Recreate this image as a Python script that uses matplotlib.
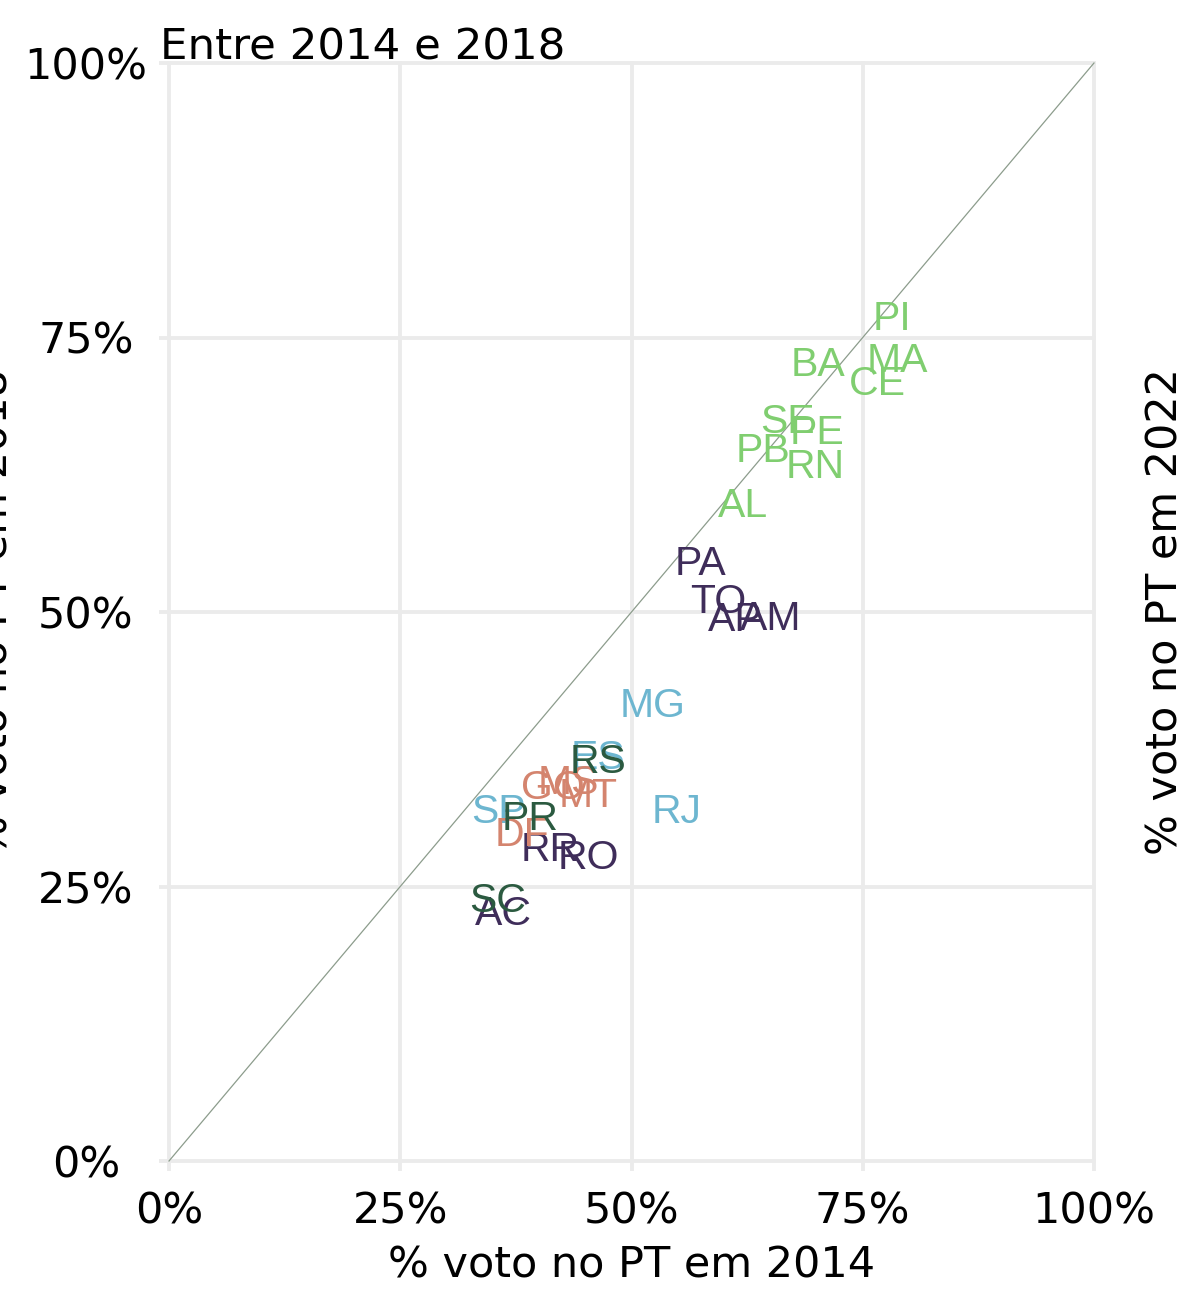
import matplotlib
matplotlib.use("Agg")
import matplotlib.pyplot as plt
from matplotlib.transforms import ScaledTranslation

# ---- data ----
states = ["PI", "MA", "CE", "BA", "SE", "PE", "PB", "RN", "AL",
          "PA", "TO", "AP", "AM", "RR", "RO", "AC",
          "MG", "ES", "SP", "RJ",
          "MS", "GO", "MT", "DF",
          "RS", "PR", "SC"]
vote_2014 = [78.2, 78.7, 76.6, 70.2, 66.9, 70.1, 64.2, 69.9, 62.0,
             57.5, 59.4, 61.2, 65.0, 41.2, 45.3, 36.2,
             52.3, 46.4, 35.6, 54.9,
             43.2, 41.5, 45.3, 38.2,
             46.4, 39.0, 35.5]
vote_2018 = [77.0, 73.2, 71.1, 72.8, 67.6, 66.6, 65.0, 63.5, 60.0,
             54.7, 51.2, 49.6, 49.7, 28.6, 27.9, 22.8,
             41.8, 37.0, 32.1, 32.1,
             34.7, 34.3, 33.6, 30.0,
             36.7, 31.5, 24.0]
regions = ["Nordeste"] * 9 + ["Norte"] * 7 + ["Sudeste"] * 4 + ["Centro-Oeste"] * 4 + ["Sul"] * 3

region_colors = {
    "Nordeste": "#80CE70",
    "Norte": "#3F2D5A",
    "Sudeste": "#6DB6D0",
    "Centro-Oeste": "#D4846E",
    "Sul": "#2B5A40",
}

ticks = [0, 25, 50, 75, 100]
tick_labels = ["0%", "25%", "50%", "75%", "100%"]

# ---- figure ----
W, H = 1178, 1297
fig = plt.figure(figsize=(W / 100, H / 100), dpi=100)
ax_left, ax_right, ax_top, ax_bottom = 169, 1094, 63, 1161
ax = fig.add_axes([ax_left / W, 1 - ax_bottom / H, (ax_right - ax_left) / W, (ax_bottom - ax_top) / H])

ax.set_xlim(0, 100)
ax.set_ylim(0, 100)
for s in ax.spines.values():
    s.set_visible(False)

grid_c = "#EBEBEB"
ax.set_xticks(ticks)
ax.set_yticks(ticks)
ax.grid(True, color=grid_c, linewidth=2.8, zorder=0)
ax.set_axisbelow(True)
for gl in ax.get_xgridlines() + ax.get_ygridlines():
    gl.set_clip_on(False)
ax.tick_params(axis="both", color=grid_c, length=7.2, width=2.8, labelsize=31)
ax.set_xticklabels(tick_labels, fontfamily="DejaVu Sans")
ax.set_yticklabels(tick_labels, fontfamily="DejaVu Sans", ha="center")
ax.tick_params(axis="x", pad=14)
ax.tick_params(axis="y", pad=52.6)

# diagonal reference
ax.plot([0, 100], [0, 100], color="#8C9C8C", linewidth=0.9, zorder=2, clip_on=False)

# state labels
label_tr = ax.transData + ScaledTranslation(0, -3.5 / 100, fig.dpi_scale_trans)
for st, x, y, r in zip(states, vote_2014, vote_2018, regions):
    ax.text(x, y, st, color=region_colors[r], fontsize=29.5, transform=label_tr,
            fontfamily="Liberation Sans", ha="center", va="center", zorder=3)

# titles / axis labels
fig.text(160 / W, 1 - 60 / H, "Entre 2014 e 2018", fontsize=31.3,
         fontfamily="DejaVu Sans", ha="left", va="baseline")
fig.text((ax_left + ax_right) / 2 / W, 1 - 1277 / H, "% voto no PT em 2014", fontsize=31,
         fontfamily="DejaVu Sans", ha="center", va="baseline")
fig.text(8 / W, 1 - 612 / H, "% voto no PT em 2018", fontsize=31, rotation=90,
         rotation_mode="anchor", fontfamily="DejaVu Sans", ha="center", va="baseline")
fig.text(1178 / W, 1 - 612 / H, "% voto no PT em 2022", fontsize=31, rotation=90,
         rotation_mode="anchor", fontfamily="DejaVu Sans", ha="center", va="baseline")

fig.savefig("out.png", dpi=100, facecolor="white")
